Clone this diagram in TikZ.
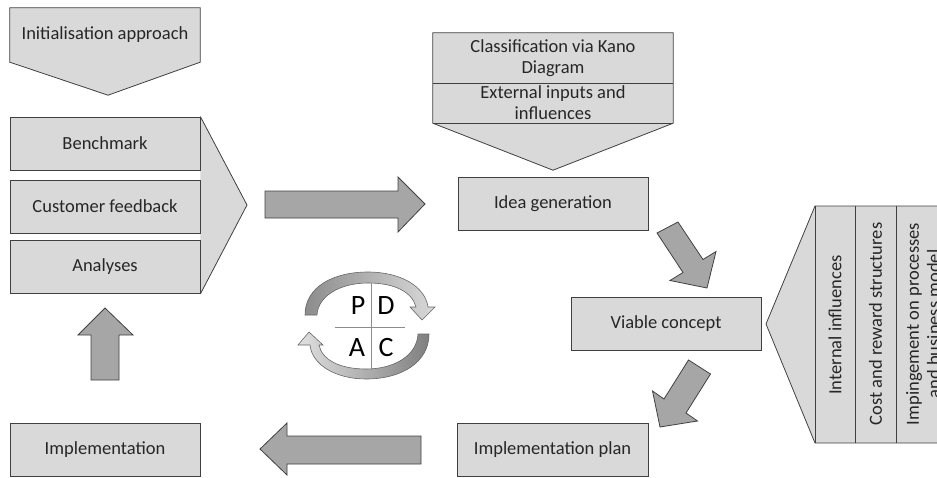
\documentclass[tikz,border=0pt]{standalone}
\usepackage{fontspec}
\setmainfont{Carlito}
\usetikzlibrary{calc}
\pgfdeclarelayer{bg}
\pgfsetlayers{bg,main}

\begin{document}
\begin{tikzpicture}[x=1pt, y=-1pt,
    lbl/.style={font=\fontsize{18.5}{21}\selectfont, text=black!85, align=center, inner sep=0pt},
    box/.style={lbl, draw=black!75, fill=black!15, line width=0.8pt, minimum width=190pt, minimum height=53pt},
    panel/.style={draw=black!75, fill=black!15, line width=0.8pt, line join=miter},
    fat/.style={draw=black!75, fill=black!35, line width=0.8pt, line join=miter},
    ring/.style={draw=black!60, line width=0.6pt},
    pdca/.style={font=\fontsize{28}{28}\selectfont, inner sep=0pt}]
    \useasboundingbox (0,0) rectangle (937,477);

    % left column
    \node[lbl, minimum width=190pt, minimum height=54pt] (init) at (105,35) {Initialisation approach};
    \node[box] (bench) at (105,143.5) {Benchmark};
    \node[box] (cust) at (105,206.5) {Customer feedback};
    \node[box] (anal) at (105,267) {Analyses};
    \node[box] (impl) at (105,449.5) {Implementation};

    % middle column
    \node[lbl, minimum width=240pt, minimum height=50pt] (kano) at (553,58) {Classification via Kano\\Diagram};
    \node[lbl, minimum width=240pt, minimum height=40pt] (ext) at (553,103) {External inputs and\\influences};
    \node[box] (idea) at (553,204) {Idea generation};
    \node[box] (viable) at (666,324) {Viable concept};
    \node[box, minimum width=191pt] (plan) at (552.5,449.5) {Implementation plan};

    % right panel
    \node[lbl, rotate=90] (intinf) at (835,325) {Internal influences};
    \node[lbl, rotate=90] (cost) at (875.5,324) {Cost and reward structures};
    \node[lbl, rotate=90] (imping) at (923,324) {Impingement on processes\\and business model};

    \begin{pgfonlayer}{bg}
        \draw[panel] (init.north west) -- (init.north east) -- (init.south east) -- ($(init.south)+(3,33)$) -- (init.south west) -- cycle;
        \fill[black!15] (bench.north east) -- (247,205) -- (anal.south east) -- cycle;
        \draw[black!75, line width=0.8pt] (bench.north east) -- (247,205) -- (anal.south east);

        \draw[panel] (kano.north west) -- (kano.north east) -- (ext.south east) -- ($(ext.south)+(0,47)$) -- (ext.south west) -- cycle;
        \draw[black!75, line width=0.8pt] (kano.south west) -- (kano.south east);
        \draw[black!75, line width=0.8pt] (ext.south west) -- (ext.south east);

        \draw[panel] (766,324) -- (815,206) -- (960,206) -- (960,443) -- (815,443) -- cycle;
        \draw[black!75, line width=0.8pt] (815,206) -- (815,443);
        \draw[black!75, line width=0.8pt] (855,206) -- (855,443);
        \draw[black!75, line width=0.8pt] (896,206) -- (896,443);
    \end{pgfonlayer}

    % big arrows
    \draw[fat] (265,191) -- (398,191) -- (398,177) -- (425,204) -- (398,232) -- (398,218) -- (265,218) -- cycle;
    \draw[fat] (657,233) -- (683,272.5) -- (670,280.5) -- (707,288) -- (716,251.5) -- (703,259.5) -- (678,222) -- cycle;
    \draw[fat] (688.5,360) -- (664,399) -- (652.5,391) -- (660,427) -- (697.5,421) -- (686,413) -- (710.5,374) -- cycle;
    \draw[fat] (421,436) -- (287,436) -- (287,423) -- (260,449) -- (287,475) -- (287,464) -- (421,464) -- cycle;
    \draw[fat] (91,380) -- (91,335) -- (78,335) -- (105,308) -- (133,335) -- (119,335) -- (119,380) -- cycle;

    % PDCA cycle
    \draw[ring, left color=black!45, right color=black!15]
        (305,315) .. controls (305,287) and (333,272) .. (368,272)
        .. controls (400,272) and (425,286) .. (428,307)
        -- (435,307) -- (422,320) -- (410,307) -- (416,307)
        .. controls (412,292) and (395,283) .. (368,283)
        .. controls (340,283) and (318,296) .. (317,315) -- cycle;
    \draw[ring, left color=black!12, right color=black!50]
        (429,334) .. controls (429,362) and (402,379) .. (366,379)
        .. controls (336,379) and (312,365) .. (310,345)
        -- (298,345) -- (309,332) -- (323,345) -- (319,345)
        .. controls (322,360) and (340,369) .. (366,369)
        .. controls (395,369) and (417,355) .. (418,334) -- cycle;
    \draw[black!45, line width=0.6pt] (371,283) -- (371,370);
    \draw[black!45, line width=0.6pt] (335,327) -- (405,327);
    \node[pdca] (P) at (358,306) {P};
    \node[pdca] (D) at (386,306) {D};
    \node[pdca] (A) at (357,348) {A};
    \node[pdca] (C) at (386,348) {C};
\end{tikzpicture}
\end{document}
